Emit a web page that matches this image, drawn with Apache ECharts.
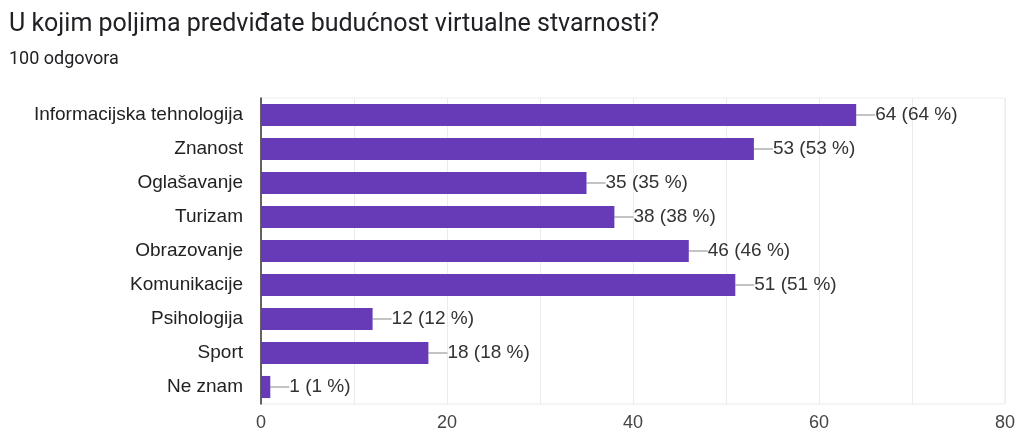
<!DOCTYPE html>
<html>
<head>
<meta charset="utf-8">
<script src="https://cdn.jsdelivr.net/npm/echarts@6/dist/echarts.min.js"></script>
<style>
html,body{margin:0;padding:0;background:#fff;}
#c{width:1020px;height:434px;}
</style>
</head>
<body>
<div id="c"></div>
<script>
const categories = ['Informacijska tehnologija','Znanost','Oglašavanje','Turizam','Obrazovanje','Komunikacije','Psihologija','Sport','Ne znam'];
const counts = [64,53,35,38,46,51,12,18,1];
const total = 100;
const xTicks = [0,20,40,60,80];

const chart = echarts.init(document.getElementById('c'));
chart.setOption({
  animation:false,
  title:[
    {text:'U kojim poljima predviđate budućnost virtualne stvarnosti?', left:4, top:7,
     textStyle:{fontFamily:'Roboto', fontSize:25, fontWeight:'normal', color:'#202124'}},
    {text: total + ' odgovora', left:4, top:45,
     textStyle:{fontFamily:'Roboto', fontSize:18, fontWeight:'normal', color:'#202124'}}
  ],
  grid:{left:261, right:15, top:98, bottom:30, containLabel:false,
        show:true, borderColor:'#ebebeb', borderWidth:1},
  xAxis:{
    type:'value', min:xTicks[0], max:xTicks[xTicks.length-1], interval:20,
    axisLine:{show:false}, axisTick:{show:false},
    axisLabel:{fontFamily:'Liberation Sans', fontSize:18, color:'#444', margin:10},
    splitLine:{show:true, lineStyle:{color:'#ebebeb'}},
    minorTick:{show:false, splitNumber:2},
    minorSplitLine:{show:true, lineStyle:{color:'#ebebeb'}}
  },
  yAxis:{
    type:'category', data:categories, inverse:true,
    axisLine:{show:true, lineStyle:{color:'#333', width:1.5}},
    axisTick:{show:false},
    axisLabel:{fontFamily:'Liberation Sans', fontSize:19, color:'#222', margin:18}
  },
  series:[{
    type:'bar', data:counts, barCategoryGap:'35%',
    itemStyle:{color:'#673ab7'},
    label:{show:true, position:'right', distance:0,
      formatter:p=>p.value+' ('+Math.round(p.value/total*100)+' %)',
      fontFamily:'Liberation Sans', fontSize:19, color:'#333'},
    labelLayout:{dx:19},
    labelLine:{show:true, lineStyle:{color:'#888', width:1}}
  }]
});
</script>
</body>
</html>
